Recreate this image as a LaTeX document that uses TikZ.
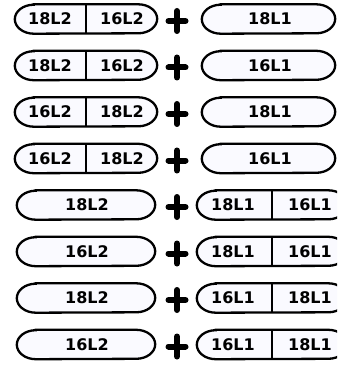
\documentclass[tikz,border=0pt]{standalone}
\usepackage{fontspec}
\setmainfont{DejaVu Sans}
\newcommand{\pillline}[1]{%
  \draw[rim] ([xshift=19pt]#1.north west) -- ([xshift=-19pt]#1.north east)
    arc[start angle=90, end angle=-90, x radius=19pt, y radius=14.5pt]
    -- ([xshift=19pt]#1.south west)
    arc[start angle=270, end angle=90, x radius=19pt, y radius=14.5pt] -- cycle;}
\begin{document}
\begin{tikzpicture}[x=1pt, y=-1pt,
  pill/.style={minimum height=29pt, inner sep=0pt},
  dblL/.style={pill, minimum width=142pt},
  sglL/.style={pill, minimum width=138pt},
  sglR/.style={pill, minimum width=133pt},
  dblR/.style={pill, minimum width=150pt},
  rim/.style={draw, line width=2.3pt, fill=blue!2},
  lbl/.style={font=\fontsize{16}{16}\selectfont\bfseries, inner sep=0pt},
  bar/.style={line width=2.2pt},
  plusline/.style={line width=6pt, line cap=round},
]
  \useasboundingbox (0,0) rectangle (337,366);
  \clip (0,0) rectangle (337,366);

  \node[dblL] (a1) at (86,19) {};
  \pillline{a1}
  \draw[bar] (a1.north) -- (a1.south);
  \node[lbl] (a1l) at (50,19) {18L2};
  \node[lbl] (a1r) at (122,19) {16L2};
  \draw[plusline] (168.5,21) -- (185.5,21) (177,11) -- (177,31);
  \node[sglR] (b1) at (268.5,19) {};
  \pillline{b1}
  \node[lbl] (b1t) at (270,19) {18L1};

  \node[dblL] (a2) at (86,65.5) {};
  \pillline{a2}
  \draw[bar] (a2.north) -- (a2.south);
  \node[lbl] (a2l) at (50,65.5) {18L2};
  \node[lbl] (a2r) at (122,65.5) {16L2};
  \draw[plusline] (168.5,67.5) -- (185.5,67.5) (177,57.5) -- (177,77.5);
  \node[sglR] (b2) at (268.5,65.5) {};
  \pillline{b2}
  \node[lbl] (b2t) at (270,65.5) {16L1};

  \node[dblL] (a3) at (86,112) {};
  \pillline{a3}
  \draw[bar] (a3.north) -- (a3.south);
  \node[lbl] (a3l) at (50,112) {16L2};
  \node[lbl] (a3r) at (122,112) {18L2};
  \draw[plusline] (168.5,114) -- (185.5,114) (177,104) -- (177,124);
  \node[sglR] (b3) at (268.5,112) {};
  \pillline{b3}
  \node[lbl] (b3t) at (270,112) {18L1};

  \node[dblL] (a4) at (86,158.5) {};
  \pillline{a4}
  \draw[bar] (a4.north) -- (a4.south);
  \node[lbl] (a4l) at (50,158.5) {16L2};
  \node[lbl] (a4r) at (122,158.5) {18L2};
  \draw[plusline] (168.5,160.5) -- (185.5,160.5) (177,150.5) -- (177,170.5);
  \node[sglR] (b4) at (268.5,158.5) {};
  \pillline{b4}
  \node[lbl] (b4t) at (270,158.5) {16L1};

  \node[sglL] (a5) at (86,205) {};
  \pillline{a5}
  \node[lbl] (a5t) at (87,205) {18L2};
  \draw[plusline] (168.5,207) -- (185.5,207) (177,197) -- (177,217);
  \node[dblR] (b5) at (272,205) {};
  \pillline{b5}
  \draw[bar] (b5.north) -- (b5.south);
  \node[lbl] (b5l) at (233,205) {18L1};
  \node[lbl] (b5r) at (310,205) {16L1};

  \node[sglL] (a6) at (86,251.5) {};
  \pillline{a6}
  \node[lbl] (a6t) at (87,251.5) {16L2};
  \draw[plusline] (168.5,253.5) -- (185.5,253.5) (177,243.5) -- (177,263.5);
  \node[dblR] (b6) at (272,251.5) {};
  \pillline{b6}
  \draw[bar] (b6.north) -- (b6.south);
  \node[lbl] (b6l) at (233,251.5) {18L1};
  \node[lbl] (b6r) at (310,251.5) {16L1};

  \node[sglL] (a7) at (86,298) {};
  \pillline{a7}
  \node[lbl] (a7t) at (87,298) {18L2};
  \draw[plusline] (168.5,300) -- (185.5,300) (177,290) -- (177,310);
  \node[dblR] (b7) at (272,298) {};
  \pillline{b7}
  \draw[bar] (b7.north) -- (b7.south);
  \node[lbl] (b7l) at (233,298) {16L1};
  \node[lbl] (b7r) at (310,298) {18L1};

  \node[sglL] (a8) at (86,344.5) {};
  \pillline{a8}
  \node[lbl] (a8t) at (87,344.5) {16L2};
  \draw[plusline] (168.5,346.5) -- (185.5,346.5) (177,336.5) -- (177,356.5);
  \node[dblR] (b8) at (272,344.5) {};
  \pillline{b8}
  \draw[bar] (b8.north) -- (b8.south);
  \node[lbl] (b8l) at (233,344.5) {16L1};
  \node[lbl] (b8r) at (310,344.5) {18L1};
\end{tikzpicture}
\end{document}
